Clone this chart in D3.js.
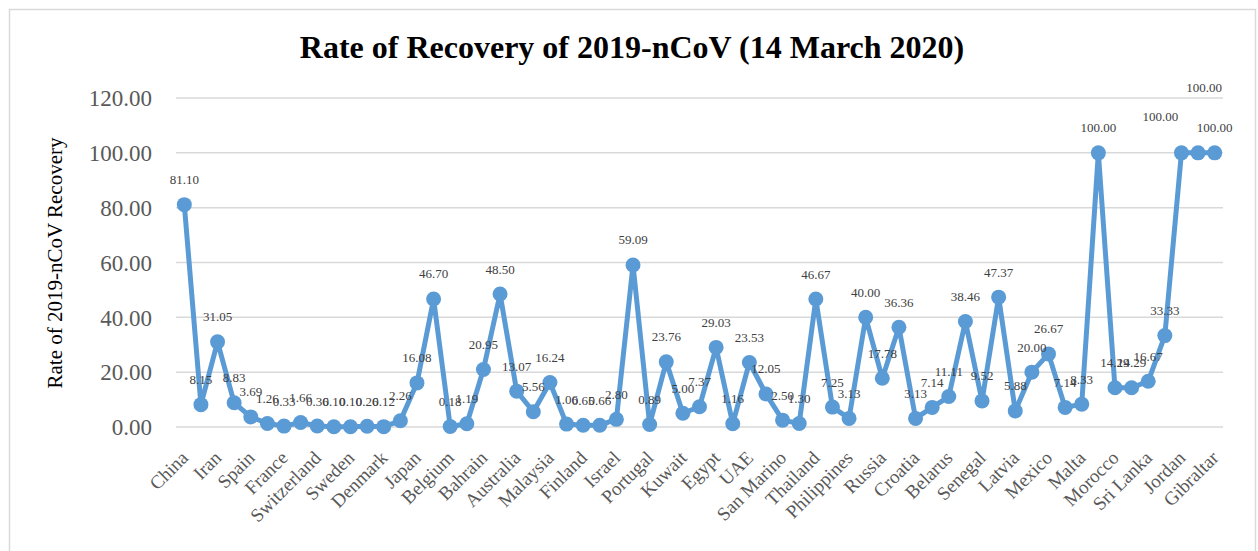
<!DOCTYPE html>
<html>
<head>
<meta charset="utf-8">
<script src="https://cdn.jsdelivr.net/npm/d3@7"></script>
<style>
  html, body { margin: 0; padding: 0; background: #ffffff; }
  svg { display: block; }
</style>
</head>
<body>
<svg id="chart" width="1258" height="551"></svg>
<script>
// Country names shown on the category axis (every second category is labelled)
const axisLabels = [
  "China", "Iran", "Spain", "France", "Switzerland", "Sweden", "Denmark", "Japan",
  "Belgium", "Bahrain", "Australia", "Malaysia", "Finland", "Israel", "Portugal", "Kuwait",
  "Egypt", "UAE", "San Marino", "Thailand", "Philippines", "Russia", "Croatia", "Belarus",
  "Senegal", "Latvia", "Mexico", "Malta", "Morocco", "Sri Lanka", "Jordan", "Gibraltar"
];

// Recovery rate (%) for each of the 63 countries, in axis order
const recoveryRate = [
  81.10, 8.15, 31.05, 8.83, 3.69, 1.26, 0.33, 1.66, 0.36, 0.10,
  0.10, 0.26, 0.12, 2.26, 16.08, 46.70, 0.18, 1.19, 20.95, 48.50,
  13.07, 5.56, 16.24, 1.06, 0.65, 0.66, 2.80, 59.09, 0.89, 23.76,
  5.00, 7.37, 29.03, 1.16, 23.53, 12.05, 2.50, 1.30, 46.67, 7.25,
  3.13, 40.00, 17.78, 36.36, 3.13, 7.14, 11.11, 38.46, 9.52, 47.37,
  5.88, 20.00, 26.67, 7.14, 8.33, 100.00, 14.29, 14.29, 16.67, 33.33,
  100.00, 100.00, 100.00
];

// Value axis ticks
const yTicks = [0, 20, 40, 60, 80, 100, 120];

const svg = d3.select("#chart");
const plot = { left: 176, right: 1223, top: 98, bottom: 427 };
const blue = "#5B9BD5";
const serif = "'Liberation Serif', 'Times New Roman', serif";

// outer chart frame
svg.append("rect")
  .attr("x", 9.5).attr("y", 9.5)
  .attr("width", 1246).attr("height", 560)
  .attr("fill", "#ffffff")
  .attr("stroke", "#d9d9d9").attr("stroke-width", 1.5);

const idx = d3.range(recoveryRate.length);
const x = d3.scaleBand().domain(idx).range([plot.left, plot.right]).padding(0);
const cx = i => x(i) + x.bandwidth() / 2;
const y = d3.scaleLinear().domain([0, 120]).range([plot.bottom, plot.top]);

// horizontal gridlines
svg.append("g")
  .selectAll("line")
  .data(yTicks)
  .join("line")
  .attr("x1", plot.left).attr("x2", plot.right)
  .attr("y1", d => y(d)).attr("y2", d => y(d))
  .attr("stroke", "#d9d9d9").attr("stroke-width", 1.5);

// value axis labels
const yAxis = d3.axisLeft(y).tickValues(yTicks).tickFormat(d3.format(".2f")).tickSize(0).tickPadding(0);
const yg = svg.append("g").attr("transform", `translate(152,0)`).call(yAxis);
yg.select(".domain").remove();
yg.selectAll("text")
  .attr("font-family", serif).attr("font-size", 23)
  .attr("fill", "#595959").attr("dy", "0.34em");

// category axis labels, rotated
const xAxis = d3.axisBottom(x)
  .tickValues(idx.filter(i => i % 2 === 0))
  .tickFormat(i => axisLabels[i / 2])
  .tickSize(0).tickPadding(0);
const xg = svg.append("g").attr("transform", `translate(0,${plot.bottom})`).call(xAxis);
xg.select(".domain").remove();
xg.selectAll("text")
  .attr("font-family", serif).attr("font-size", 19)
  .attr("fill", "#595959")
  .attr("text-anchor", "end")
  .attr("y", 0).attr("dy", 0)
  .attr("transform", "translate(5,32) rotate(-45)");

// series line
const line = d3.line().x(i => cx(i)).y(i => y(recoveryRate[i]));
svg.append("path")
  .datum(idx)
  .attr("d", line)
  .attr("fill", "none")
  .attr("stroke", blue).attr("stroke-width", 5)
  .attr("stroke-linejoin", "round");

// markers
svg.append("g")
  .selectAll("circle")
  .data(idx)
  .join("circle")
  .attr("cx", i => cx(i)).attr("cy", i => y(recoveryRate[i]))
  .attr("r", 7.5)
  .attr("fill", blue);

// data labels above each point; the last cluster of 100% points is staggered
const labelNudge = { 60: [-21, -11], 61: [6, -40] };
svg.append("g")
  .selectAll("text")
  .data(idx)
  .join("text")
  .attr("x", i => cx(i) + (labelNudge[i] ? labelNudge[i][0] : 0))
  .attr("y", i => y(recoveryRate[i]) - 20.5 + (labelNudge[i] ? labelNudge[i][1] : 0))
  .attr("text-anchor", "middle")
  .attr("font-family", serif).attr("font-size", 13)
  .attr("fill", "#404040")
  .text(i => recoveryRate[i].toFixed(2));

// y-axis title
svg.append("text")
  .attr("transform", "translate(62,263) rotate(-90)")
  .attr("text-anchor", "middle")
  .attr("font-family", serif).attr("font-size", 21)
  .attr("fill", "#000000")
  .text("Rate of 2019-nCoV Recovery");

// chart title
svg.append("text")
  .attr("x", 632).attr("y", 58)
  .attr("text-anchor", "middle")
  .attr("font-family", serif).attr("font-size", 32).attr("font-weight", "bold")
  .attr("fill", "#000000")
  .text("Rate of Recovery of 2019-nCoV (14 March 2020)");
</script>
</body>
</html>
